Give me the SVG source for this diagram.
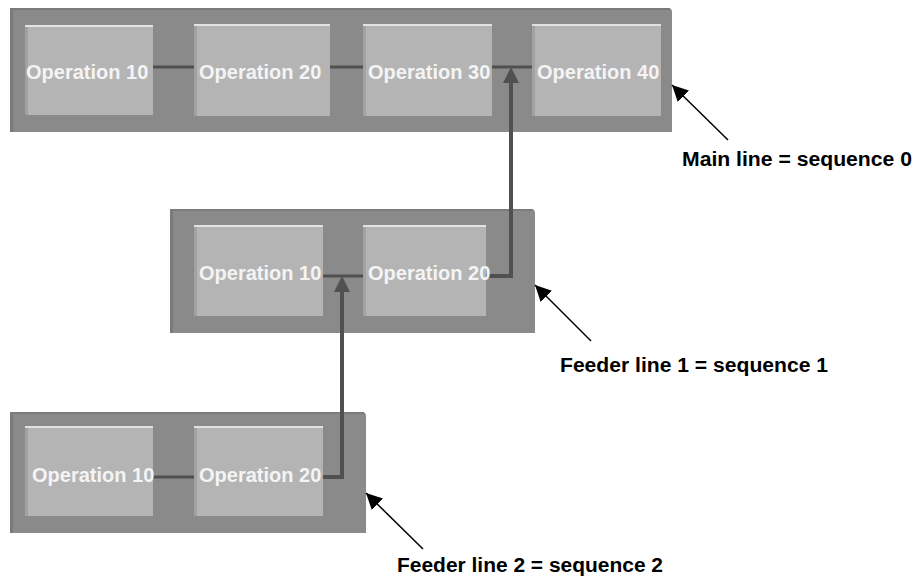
<svg xmlns="http://www.w3.org/2000/svg" width="913" height="584" viewBox="0 0 913 584">
<defs>
<style>
.panel{fill:#8a8a8a}
.pbev{fill:#7b7b7b}
.op{fill:#b4b4b4}
.optop{fill:#e2e2e2}
.opleft{fill:#a2a2a2}
.optxt{font-family:"Liberation Sans",Arial,sans-serif;font-weight:bold;font-size:20px;fill:#f4f4f4}
.lbl{font-family:"Liberation Sans",Arial,sans-serif;font-weight:bold;font-size:20px;fill:#000}
.link{fill:none;stroke:#505050;stroke-width:3}
.flow{fill:none;stroke:#505050;stroke-width:4}
.ann{fill:none;stroke:#000;stroke-width:1.5}
</style>
<marker id="ah" viewBox="0 0 10 10" refX="10" refY="5" markerWidth="16" markerHeight="16" markerUnits="userSpaceOnUse" orient="auto">
<path d="M0,0 L10,5 L0,10 z" fill="#000"/>
</marker>
</defs>
<rect width="913" height="584" fill="#fff"/>

<g id="panel-main">
<path class="panel" d="M10,8 H668 Q672,8 672,12 V132 H10 Z"/>
<rect class="pbev" x="10" y="8" width="3" height="124"/>
<rect class="pbev" x="10" y="8" width="660" height="2"/>
</g>
<g id="panel-feeder1">
<path class="panel" d="M170,209 H531 Q535,209 535,213 V333 H170 Z"/>
<rect class="pbev" x="170" y="209" width="3" height="124"/>
<rect class="pbev" x="170" y="209" width="363" height="2"/>
</g>
<g id="panel-feeder2">
<path class="panel" d="M10,412 H362 Q366,412 366,416 V533 H10 Z"/>
<rect class="pbev" x="10" y="412" width="3" height="121"/>
<rect class="pbev" x="10" y="412" width="354" height="2"/>
</g>

<g id="connectors">
<line class="link" x1="153" y1="67" x2="194" y2="67"/>
<line class="link" x1="330" y1="67" x2="363" y2="67"/>
<line class="link" x1="492" y1="67" x2="532" y2="67"/>
<line class="link" x1="323" y1="276" x2="363" y2="276"/>
<line class="link" x1="153" y1="477" x2="194" y2="477"/>
<path class="flow" d="M486,276 H511 V82"/>
<path d="M511,67 L503,83 L519,83 Z" fill="#505050"/>
<path class="flow" d="M323,477 H342 V291"/>
<path d="M342,276 L334,292 L350,292 Z" fill="#505050"/>
<line class="ann" x1="728" y1="140" x2="672" y2="85" marker-end="url(#ah)"/>
<line class="ann" x1="591" y1="341" x2="535" y2="285" marker-end="url(#ah)"/>
<line class="ann" x1="423" y1="549" x2="366" y2="493" marker-end="url(#ah)"/>
</g>

<g id="main-op10">
<rect class="op" x="25" y="25" width="128" height="90"/>
<rect class="opleft" x="25" y="25" width="3" height="90"/>
<rect class="optop" x="25" y="25" width="128" height="2"/>
<text class="optxt" x="26" y="79">Operation 10</text>
</g>
<g id="main-op20">
<rect class="op" x="194" y="24" width="136" height="92"/>
<rect class="opleft" x="194" y="24" width="3" height="92"/>
<rect class="optop" x="194" y="24" width="136" height="2"/>
<text class="optxt" x="199" y="79">Operation 20</text>
</g>
<g id="main-op30">
<rect class="op" x="363" y="24" width="129" height="92"/>
<rect class="opleft" x="363" y="24" width="3" height="92"/>
<rect class="optop" x="363" y="24" width="129" height="2"/>
<text class="optxt" x="368" y="79">Operation 30</text>
</g>
<g id="main-op40">
<rect class="op" x="532" y="24" width="129" height="92"/>
<rect class="opleft" x="532" y="24" width="3" height="92"/>
<rect class="optop" x="532" y="24" width="129" height="2"/>
<text class="optxt" x="537" y="79">Operation 40</text>
</g>

<g id="f1-op10">
<rect class="op" x="194" y="225" width="129" height="91"/>
<rect class="opleft" x="194" y="225" width="3" height="91"/>
<rect class="optop" x="194" y="225" width="129" height="2"/>
<text class="optxt" x="199" y="280">Operation 10</text>
</g>
<g id="f1-op20">
<rect class="op" x="363" y="225" width="123" height="91"/>
<rect class="opleft" x="363" y="225" width="3" height="91"/>
<rect class="optop" x="363" y="225" width="123" height="2"/>
<text class="optxt" x="368" y="280">Operation 20</text>
</g>

<g id="f2-op10">
<rect class="op" x="25" y="426" width="128" height="90"/>
<rect class="opleft" x="25" y="426" width="3" height="90"/>
<rect class="optop" x="25" y="426" width="128" height="2"/>
<text class="optxt" x="32" y="482">Operation 10</text>
</g>
<g id="f2-op20">
<rect class="op" x="194" y="426" width="129" height="90"/>
<rect class="opleft" x="194" y="426" width="3" height="90"/>
<rect class="optop" x="194" y="426" width="129" height="2"/>
<text class="optxt" x="199" y="482">Operation 20</text>
</g>

<g id="labels">
<text class="lbl" x="682" y="166" textLength="230" lengthAdjust="spacingAndGlyphs">Main line = sequence 0</text>
<text class="lbl" x="560" y="372" textLength="268" lengthAdjust="spacingAndGlyphs">Feeder line 1 = sequence 1</text>
<text class="lbl" x="397" y="572" textLength="266" lengthAdjust="spacingAndGlyphs">Feeder line 2 = sequence 2</text>
</g>
</svg>
